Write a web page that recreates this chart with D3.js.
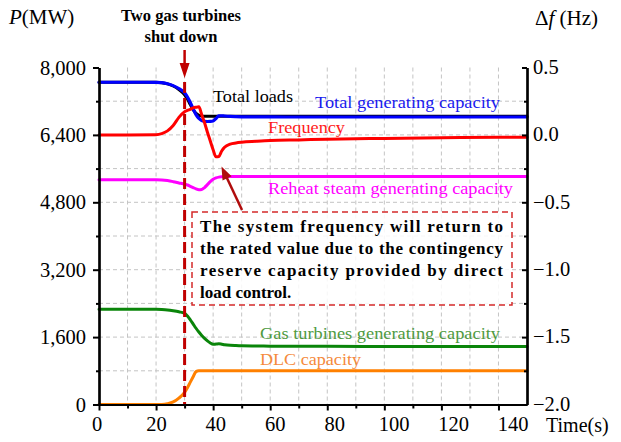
<!DOCTYPE html>
<html>
<head>
<meta charset="utf-8">
<script src="https://cdn.jsdelivr.net/npm/d3@7"></script>
<style>
  html, body { margin: 0; padding: 0; background: #fff; }
</style>
</head>
<body>
<svg id="chart" width="621" height="442"></svg>
<script>
// ---- Data ----
const time = [0, 10, 20, 22, 24, 26, 28, 30, 31, 32, 33, 34, 35, 36, 37, 38, 39, 40, 41, 42, 43, 44, 46, 48, 50, 55, 60, 70, 80, 100, 120, 140, 150];
const totalLoads = [7650, 7650, 7648, 7640, 7612, 7560, 7475, 7350, 7250, 7120, 7000, 6910, 6865, 6850, 6845, 6845, 6845, 6845, 6845, 6845, 6845, 6845, 6845, 6845, 6845, 6845, 6845, 6845, 6845, 6845, 6845, 6845, 6845];
const totalGen = [7650, 7650, 7648, 7640, 7615, 7570, 7500, 7400, 7300, 7170, 7020, 6880, 6790, 6740, 6722, 6718, 6720, 6730, 6790, 6850, 6855, 6848, 6838, 6833, 6830, 6828, 6826, 6825, 6825, 6825, 6825, 6825, 6825];
const frequency = [0, 0, 0.002, 0.01, 0.03, 0.07, 0.13, 0.172, 0.182, 0.19, 0.2, 0.205, 0.208, 0.15, 0.09, 0.02, -0.045, -0.11, -0.163, -0.16, -0.12, -0.092, -0.068, -0.06, -0.055, -0.048, -0.042, -0.037, -0.032, -0.026, -0.021, -0.018, -0.017];
const reheat = [5335, 5335, 5335, 5330, 5315, 5290, 5260, 5230, 5210, 5180, 5150, 5120, 5100, 5105, 5150, 5220, 5290, 5345, 5380, 5398, 5405, 5408, 5410, 5410, 5411, 5412, 5412, 5413, 5413, 5414, 5414, 5415, 5415];
const gasTurbines = [2260, 2260, 2260, 2255, 2245, 2225, 2200, 2165, 2100, 2010, 1910, 1810, 1720, 1640, 1570, 1510, 1460, 1430, 1435, 1440, 1432, 1420, 1405, 1398, 1393, 1388, 1385, 1382, 1380, 1378, 1376, 1375, 1375];
const dlc = [0, 0, 0, 3, 20, 60, 150, 290, 400, 530, 660, 780, 800, 800, 800, 800, 800, 800, 800, 800, 800, 800, 800, 800, 800, 800, 800, 800, 800, 800, 800, 800, 800];

const xTickLabels = [0, 20, 40, 60, 80, 100, 120, 140];
const yLeftTicks = [0, 1600, 3200, 4800, 6400, 8000];
const yLeftMinor = [800, 2400, 4000, 5600, 7200];
const yRightTicks = [-2.0, -1.5, -1.0, -0.5, 0.0, 0.5];
const yRightMinor = [-1.75, -1.25, -0.75, -0.25, 0.25];
const xMajorTicks = [0, 20, 40, 60, 80, 100, 120, 140];
const xMinorTicks = [10, 30, 50, 70, 90, 110, 130];
const eventTime = 30;
const annotationLines = [
  "The system frequency will return to",
  "the rated value due to the contingency",
  "reserve capacity provided by direct",
  "load control."
];

const FONT = "Liberation Serif";

// ---- Scales ----
const svg = d3.select("#chart");
const x = d3.scaleLinear().domain([0, 150]).range([99, 527]);
const xLabel = d3.scaleLinear().domain([0, 140]).range([97, 513]);
const y = d3.scaleLinear().domain([0, 8000]).range([404.5, 67.5]);
const yR = d3.scaleLinear().domain([-2, 0.5]).range([404.5, 67.5]);

// ---- Grid ----
const grid = svg.append("g").attr("stroke", "#c4c4c4").attr("stroke-width", 1).attr("stroke-dasharray", "4,3");
d3.range(10, 150, 10).forEach(t => {
  grid.append("line").attr("x1", x(t)).attr("x2", x(t)).attr("y1", y(8000)).attr("y2", y(0));
});
d3.range(800, 8000, 800).forEach(p => {
  grid.append("line").attr("x1", x(0)).attr("x2", x(150)).attr("y1", y(p)).attr("y2", y(p));
});

// ---- Curves ----
const lineL = arr => d3.line().x((d, i) => x(time[i])).y((d, i) => y(arr[i])).curve(d3.curveMonotoneX)(arr);
const lineR = arr => d3.line().x((d, i) => x(time[i])).y((d, i) => yR(arr[i])).curve(d3.curveMonotoneX)(arr);

const curves = svg.append("g").attr("fill", "none").attr("stroke-linejoin", "round").attr("stroke-linecap", "round");
curves.append("path").attr("d", lineL(dlc)).attr("stroke", "#ff8000").attr("stroke-width", 3);
curves.append("path").attr("d", lineL(gasTurbines)).attr("stroke", "#0a850a").attr("stroke-width", 3);
curves.append("path").attr("d", lineL(reheat)).attr("stroke", "#ff00ff").attr("stroke-width", 3);
curves.append("path").attr("d", lineL(totalLoads)).attr("stroke", "#000000").attr("stroke-width", 3);
curves.append("path").attr("d", lineL(totalGen)).attr("stroke", "#0000ff").attr("stroke-width", 3.2);
curves.append("path").attr("d", lineR(frequency)).attr("stroke", "#ff0000").attr("stroke-width", 3);

// ---- Event marker ----
const darkRed = "#c00000";
svg.append("line").attr("x1", x(eventTime)).attr("x2", x(eventTime))
  .attr("y1", 82).attr("y2", y(0))
  .attr("stroke", darkRed).attr("stroke-width", 3).attr("stroke-dasharray", "11,5");
svg.append("line").attr("x1", x(eventTime)).attr("x2", x(eventTime))
  .attr("y1", 50).attr("y2", 66).attr("stroke", darkRed).attr("stroke-width", 2.5);
svg.append("path")
  .attr("d", `M${x(eventTime) - 5},63 L${x(eventTime) + 5},63 L${x(eventTime)},78 Z`)
  .attr("fill", darkRed);

const txt = (tx, ty, s) => svg.append("text").attr("x", tx).attr("y", ty)
  .style("font-family", FONT).text(s);

txt(181, 21, "Two gas turbines").attr("text-anchor", "middle").style("font-weight", "bold").attr("font-size", 16.5);
txt(181, 42, "shut down").attr("text-anchor", "middle").style("font-weight", "bold").attr("font-size", 16.5);

// ---- Series labels ----
const lab = (tx, ty, s, col, len) => {
  const t = txt(tx, ty, s).attr("font-size", 17).attr("fill", col);
  if (len) t.attr("textLength", len).attr("lengthAdjust", "spacingAndGlyphs");
};
lab(213, 102, "Total loads", "#000000", 80);
lab(315, 108, "Total generating capacity", "#1a1aee", 185);
lab(268, 133, "Frequency", "#ff1a1a", 77);
lab(268, 194, "Reheat steam generating capacity", "#ff00ff", 245);
lab(260, 339, "Gas turbines generating capacity", "#4f9a3f", 240);
lab(260, 365, "DLC capacity", "#f58a3c", 101);

// ---- Annotation ----
svg.append("line").attr("x1", 242).attr("y1", 210).attr("x2", 226).attr("y2", 176)
  .attr("stroke", "#b00c0c").attr("stroke-width", 2.5);
{
  const tipX = 221.5, tipY = 166.5;
  const ang = Math.atan2(tipY - 210, tipX - 242);
  const L = 13, W = 5;
  const bx = tipX - L * Math.cos(ang), by = tipY - L * Math.sin(ang);
  const px = -Math.sin(ang) * W, py = Math.cos(ang) * W;
  svg.append("path").attr("d", `M${tipX},${tipY} L${bx + px},${by + py} L${bx - px},${by - py} Z`).attr("fill", "#b00c0c");
}
svg.append("rect").attr("x", 192).attr("y", 212).attr("width", 320).attr("height", 93)
  .attr("fill", "#ffffff").attr("fill-opacity", 0.85)
  .attr("stroke", "#d42a2a").attr("stroke-width", 1.5).attr("stroke-dasharray", "6,4");
annotationLines.forEach((s, i) => {
  const t = txt(200, 232 + i * 22, s)
    .attr("font-size", 17).style("font-weight", "bold").attr("fill", "#000");
  if (i < 3) t.attr("textLength", 303).attr("lengthAdjust", "spacing");
});

// ---- Axes ----
const styleAxis = g => {
  g.select(".domain").attr("stroke", "#000").attr("stroke-width", 2.2);
  g.selectAll(".tick line").attr("stroke", "#000").attr("stroke-width", 2);
  g.selectAll("text").style("font-family", FONT).attr("font-size", 20.5).attr("fill", "#000");
};

const leftAxis = svg.append("g").attr("transform", `translate(${x(0)},0)`)
  .call(d3.axisLeft(y).tickValues(yLeftTicks).tickSize(6).tickSizeOuter(0).tickPadding(7).tickFormat(d3.format(",")));
styleAxis(leftAxis);
const leftMinor = svg.append("g").attr("transform", `translate(${x(0)},0)`)
  .call(d3.axisLeft(y).tickValues(yLeftMinor).tickSize(3).tickSizeOuter(0).tickFormat(""));
styleAxis(leftMinor);

const rightAxis = svg.append("g").attr("transform", `translate(${x(150)},0)`)
  .call(d3.axisRight(yR).tickValues(yRightTicks).tickSize(-5).tickSizeOuter(0).tickPadding(6).tickFormat(d3.format(".1f")));
styleAxis(rightAxis);
rightAxis.selectAll(".tick text").attr("dy", "0.28em");
const rightMinor = svg.append("g").attr("transform", `translate(${x(150)},0)`)
  .call(d3.axisRight(yR).tickValues(yRightMinor).tickSize(-3).tickSizeOuter(0).tickFormat(""));
styleAxis(rightMinor);

const bottomAxis = svg.append("g").attr("transform", `translate(0,${y(0)})`)
  .call(d3.axisBottom(x).tickValues(xMajorTicks).tickSize(6).tickSizeOuter(0).tickFormat(""));
styleAxis(bottomAxis);
const bottomMinor = svg.append("g").attr("transform", `translate(0,${y(0)})`)
  .call(d3.axisBottom(x).tickValues(xMinorTicks).tickSize(4).tickSizeOuter(0).tickFormat(""));
styleAxis(bottomMinor);

svg.append("g").selectAll("text").data(xTickLabels).join("text")
  .attr("x", d => xLabel(d)).attr("y", 431).attr("text-anchor", "middle")
  .style("font-family", FONT).attr("font-size", 20.5).text(d => d);

txt(546, 432, "Time(s)").attr("font-size", 20);

// Axis titles
const pt = txt(9, 24, "").attr("font-size", 21);
pt.append("tspan").style("font-style", "italic").text("P");
pt.append("tspan").text("(MW)");
const ft = txt(535, 25, "").attr("font-size", 21);
ft.append("tspan").text("Δ");
ft.append("tspan").style("font-style", "italic").text("f");
ft.append("tspan").text(" (Hz)");
</script>
</body>
</html>
